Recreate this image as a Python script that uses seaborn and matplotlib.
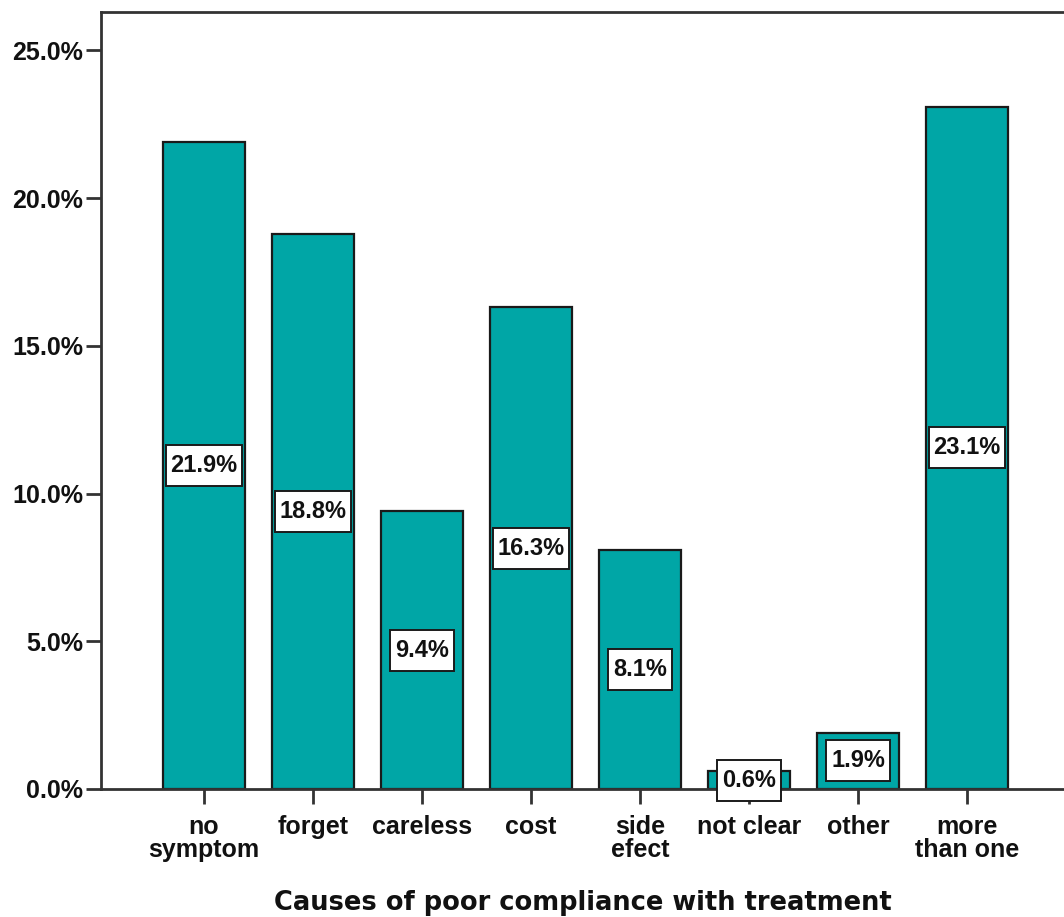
import matplotlib
matplotlib.use("Agg")
import matplotlib.pyplot as plt
from matplotlib.path import Path
import seaborn as sns
import pandas as pd

causes = ["no\nsymptom", "forget", "careless", "cost", "side\nefect",
          "not clear", "other", "more\nthan one"]
percent = [21.9, 18.8, 9.4, 16.3, 8.1, 0.6, 1.9, 23.1]
y_ticks = [0, 5, 10, 15, 20, 25]

sns.set_style("white")
plt.rcParams["font.family"] = ["Liberation Sans", "DejaVu Sans"]
plt.rcParams["font.weight"] = "bold"

df = pd.DataFrame({"cause": causes, "percent": percent})


def label_box(x0, y0, width, height, mutation_size):
    """Square label frame with more padding above and below than at the sides."""
    px = 0.2 * mutation_size
    py = 0.38 * mutation_size
    x0, y0 = x0 - px, y0 - py
    x1, y1 = x0 + width + 2 * px, y0 + height + 2 * py
    return Path([(x0, y0), (x1, y0), (x1, y1), (x0, y1), (x0, y0)],
                closed=True)


fig = plt.figure(figsize=(10.64, 9.17), dpi=100)
ax = fig.add_axes([0.0949, 0.1396, 0.9051, 0.8473])

sns.barplot(data=df, x="cause", y="percent", color="#00A6A6", saturation=1,
            width=0.76, edgecolor="#1a1a1a", linewidth=1.6, ax=ax)

for patch, val in zip(ax.patches, percent):
    cx = patch.get_x() + patch.get_width() / 2
    ax.text(cx, val / 2, f"{val:.1f}%", ha="center", va="center",
            fontsize=17, fontweight="bold", color="#111111",
            bbox=dict(boxstyle=label_box, facecolor="white",
                      edgecolor="#1a1a1a", linewidth=1.4), zorder=5)

ax.set_xlim(-0.945, 7.89)
ax.set_ylim(0, 26.3)
ax.set_yticks(y_ticks)
ax.set_yticklabels([f"{t:.1f}%" for t in y_ticks])

ax.set_ylabel("")
ax.set_xlabel("Causes of poor compliance with treatment", fontsize=18.5,
              fontweight="bold", labelpad=20, color="#111111",
              family=["DejaVu Sans"])

for side in ["left", "bottom", "top"]:
    ax.spines[side].set_visible(True)
    ax.spines[side].set_color("#333333")
    ax.spines[side].set_linewidth(2)
ax.spines["right"].set_visible(False)

ax.tick_params(axis="both", which="both", direction="out", length=11, width=2,
               color="#333333", labelsize=18, labelcolor="#111111",
               bottom=True, left=True)
ax.tick_params(axis="y", pad=2)
ax.tick_params(axis="x", pad=8)
for lbl in ax.get_xticklabels():
    lbl.set_fontweight("bold")
    lbl.set_linespacing(0.95)
for lbl in ax.get_yticklabels():
    lbl.set_fontweight("bold")

fig.savefig("out.png", dpi=100)
